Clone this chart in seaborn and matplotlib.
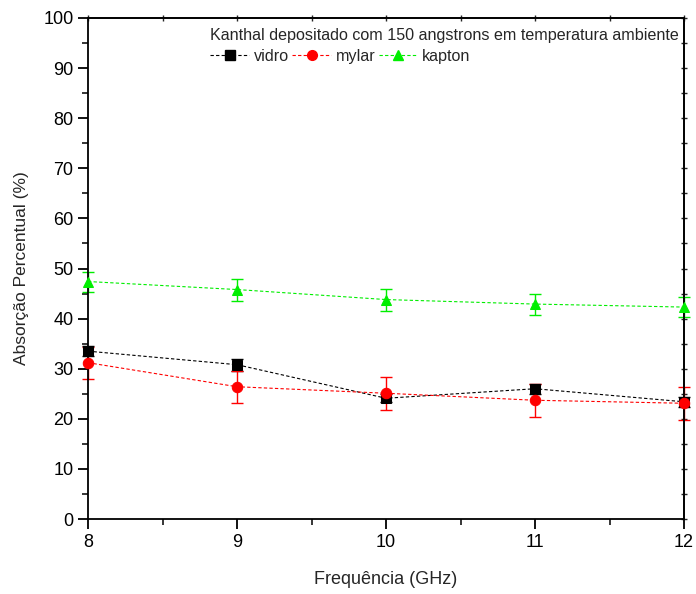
import matplotlib
matplotlib.use("Agg")
import matplotlib.pyplot as plt
import seaborn as sns
import pandas as pd
import numpy as np
from matplotlib.ticker import MultipleLocator, NullFormatter
from matplotlib.lines import Line2D

freq = [8, 9, 10, 11, 12]
vidro = [33.5, 30.8, 24.1, 26.0, 23.4]
vidro_err = [1.0, 1.2, 0.8, 1.0, 1.0]
mylar = [31.2, 26.4, 25.1, 23.7, 23.1]
mylar_err = [3.2, 3.2, 3.3, 3.3, 3.3]
kapton = [47.4, 45.8, 43.8, 42.9, 42.3]
kapton_err = [2.0, 2.2, 2.2, 2.1, 2.0]

series = ["vidro", "mylar", "kapton"]
colors = {"vidro": "black", "mylar": "red", "kapton": "#00ee00"}
markers = {"vidro": "s", "mylar": "o", "kapton": "^"}
vals = {"vidro": vidro, "mylar": mylar, "kapton": kapton}
errs = {"vidro": vidro_err, "mylar": mylar_err, "kapton": kapton_err}

df = pd.concat([pd.DataFrame({"freq": freq, "val": vals[s], "err": errs[s], "serie": s}) for s in series])

sns.set_style("ticks")
plt.rcParams["font.family"] = ["Liberation Sans", "DejaVu Sans"]

fig = plt.figure(figsize=(6.96, 5.94), dpi=100)
ax = fig.add_axes([88/696, 75/594, 596/696, 501/594])

for s in series:
    d = df[df.serie == s]
    ax.errorbar(d.freq, d.val, yerr=d.err, fmt="none", ecolor=colors[s], elinewidth=1.0,
                capsize=4, capthick=1.0, zorder=2, clip_on=False)
    sns.lineplot(data=d, x="freq", y="val", ax=ax, color=colors[s], marker=markers[s],
                 markersize=7.5, markeredgecolor=colors[s], linestyle=(0, (3, 2)), linewidth=0.8,
                 zorder=3, legend=False, clip_on=False)

ax.set_xlim(8, 12)
ax.set_ylim(0, 100)
ax.xaxis.set_major_locator(MultipleLocator(1))
ax.xaxis.set_minor_locator(MultipleLocator(0.5))
ax.yaxis.set_major_locator(MultipleLocator(10))
ax.yaxis.set_minor_locator(MultipleLocator(5))
ax.tick_params(axis="both", which="major", direction="out", length=7, width=1.3, labelsize=13, colors="black")
ax.tick_params(axis="both", which="minor", direction="out", length=4, width=1.3)

for loc in ("top", "right"):
    sec = ax.secondary_xaxis("top") if loc == "top" else ax.secondary_yaxis("right")
    a = sec.xaxis if loc == "top" else sec.yaxis
    a.set_major_locator(MultipleLocator(1 if loc == "top" else 10))
    a.set_minor_locator(MultipleLocator(0.5 if loc == "top" else 5))
    a.set_major_formatter(NullFormatter())
    sec.tick_params(which="both", direction="inout", length=5, width=1.0)
    sec.spines[loc].set_linewidth(1.3)

for sp in ax.spines.values():
    sp.set_linewidth(1.3)
    sp.set_color("black")
ax.set_xlabel("Frequência (GHz)", fontsize=13, labelpad=15)
ax.set_ylabel("Absorção Percentual (%)", fontsize=12.5, labelpad=10)

handles = [Line2D([0], [0], color=colors[s], marker=markers[s], markersize=7, linestyle=(0, (3, 2)),
                  linewidth=0.8) for s in series]
leg = ax.legend(handles, series, title="Kanthal depositado com 150 angstrons em temperatura ambiente",
                ncol=3, loc="upper right", bbox_to_anchor=(1.008, 1.0), frameon=False, fontsize=11.6,
                title_fontsize=11.6, handlelength=2.4, columnspacing=0.2, handletextpad=0.3,
                borderaxespad=0.3, labelspacing=0.4, borderpad=0.3)
leg._legend_box.align = "left"

fig.savefig("out.png", dpi=100)
